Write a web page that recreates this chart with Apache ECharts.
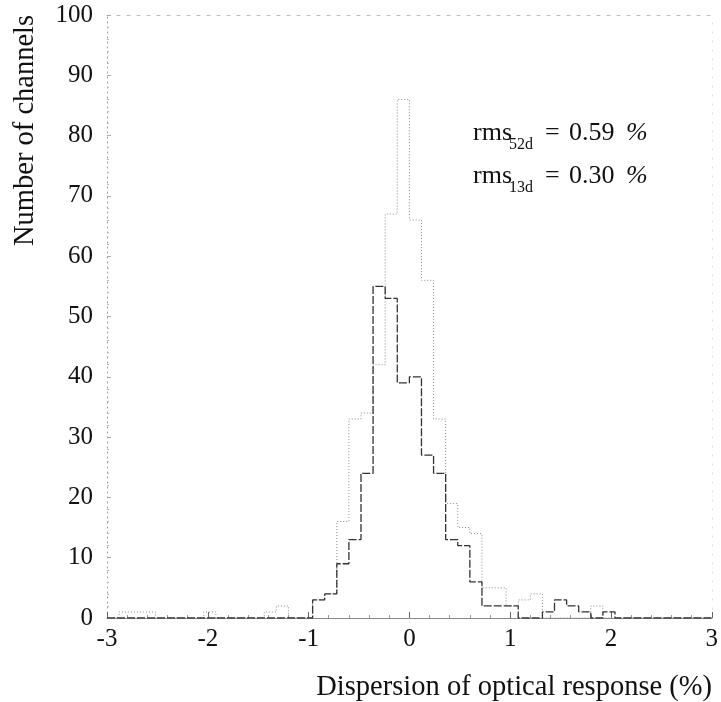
<!DOCTYPE html>
<html>
<head>
<meta charset="utf-8">
<script src="https://cdn.jsdelivr.net/npm/echarts@6/dist/echarts.min.js"></script>
<style>
html,body{margin:0;padding:0;background:#fff;}
#chart{width:721px;height:702px;}
</style>
</head>
<body>
<div id="chart"></div>
<script>
// Bin left edges (bin width 0.12 %) of the histogram, -3 % .. 3 %
const binLeft = [
  -3.00,-2.88,-2.76,-2.64,-2.52,-2.40,-2.28,-2.16,-2.04,-1.92,
  -1.80,-1.68,-1.56,-1.44,-1.32,-1.20,-1.08,-0.96,-0.84,-0.72,
  -0.60,-0.48,-0.36,-0.24,-0.12, 0.00, 0.12, 0.24, 0.36, 0.48,
   0.60, 0.72, 0.84, 0.96, 1.08, 1.20, 1.32, 1.44, 1.56, 1.68,
   1.80, 1.92, 2.04, 2.16, 2.28, 2.40, 2.52, 2.64, 2.76, 2.88
];
const binRight = 3.00;

// 52 days (wider, dark histogram)
const counts52d = [
  0,0,0,0,0,0,0,0,0,0,
  0,0,0,0,0,0,0,3,4,9,
  13,24,55,53,39,40,27,24,13,12,
  6,2,2,2,0,0,1,3,2,1,
  0,1,0,0,0,0,0,0,0,0
];
// 13 days (narrower, grey dotted histogram)
const counts13d = [
  0,1,1,1,0,0,0,0,1,0,
  0,0,0,1,2,0,0,3,4,16,
  33,34,42,67,86,66,56,33,19,15,
  14,5,5,2,3,4,0,0,0,0,
  2,0,0,0,0,0,0,0,0,0
];

const xTicks = [-3,-2,-1,0,1,2,3];
const yTicks = [0,10,20,30,40,50,60,70,80,90,100];
const xTitle = 'Dispersion of optical response (%)';
const yTitle = 'Number of channels';
const rmsLines = [
  {base:'rms', sub:'52d', val:'0.59'},
  {base:'rms', sub:'13d', val:'0.30'}
];

function stepData(counts){
  const d = binLeft.map((x,i)=>[x, counts[i]]);
  d.push([binRight, counts[counts.length-1]]);
  return d;
}

const FONT = 'Liberation Serif, Times New Roman, serif';
const chart = echarts.init(document.getElementById('chart'), null, {renderer:'canvas'});

const graphics = [];
graphics.push({
  type:'text', right:9, top:673,
  style:{text:xTitle, font:'28.5px ' + FONT, fill:'#111'}
});
graphics.push({
  type:'text', x:11, y:246, rotation:Math.PI/2,
  style:{text:yTitle, font:'28.5px ' + FONT, fill:'#111', textAlign:'left', textVerticalAlign:'top'}
});
const baselines = [146, 189];
rmsLines.forEach((r,i)=>{
  const b = baselines[i];
  graphics.push({type:'text', x:473, y:b, style:{text:r.base, font:'26px '+FONT, fill:'#111', textVerticalAlign:'bottom'}});
  graphics.push({type:'text', x:509, y:b+7, style:{text:r.sub, font:'16px '+FONT, fill:'#111', textVerticalAlign:'bottom'}});
  graphics.push({type:'text', x:545, y:b, style:{text:'=', font:'26px '+FONT, fill:'#111', textVerticalAlign:'bottom'}});
  graphics.push({type:'text', x:569, y:b, style:{text:r.val, font:'26px '+FONT, fill:'#111', textVerticalAlign:'bottom'}});
  graphics.push({type:'text', x:626, y:b, style:{text:'%', font:'italic 26px '+FONT, fill:'#111', textVerticalAlign:'bottom'}});
});

const option = {
  animation:false,
  backgroundColor:'#fff',
  grid:{left:107, right:8, top:15, bottom:84, containLabel:false},
  xAxis:[{
    type:'value', min:xTicks[0], max:xTicks[xTicks.length-1], interval:1,
    axisLine:{show:true, onZero:false, lineStyle:{color:'#888', width:1}},
    axisTick:{show:true, inside:true, length:6, lineStyle:{color:'#666'}},
    minorTick:{show:true, splitNumber:5, length:3, lineStyle:{color:'#999'}},
    axisLabel:{margin:9, fontFamily:FONT, fontSize:25, color:'#111', formatter:v=>String(v)},
    splitLine:{show:false}
  },{
    type:'value', position:'top', min:xTicks[0], max:xTicks[xTicks.length-1],
    axisLine:{show:true, onZero:false, lineStyle:{color:'#bbb', width:1, type:[3,7]}},
    axisTick:{show:false}, axisLabel:{show:false}, splitLine:{show:false}
  }],
  yAxis:[{
    type:'value', min:yTicks[0], max:yTicks[yTicks.length-1], interval:10,
    axisLine:{show:true, onZero:false, lineStyle:{color:'#999', width:1, type:[1,4]}},
    axisTick:{show:true, inside:true, length:4, lineStyle:{color:'#aaa'}},
    minorTick:{show:true, splitNumber:5, length:2, lineStyle:{color:'#bbb'}},
    axisLabel:{margin:14, fontFamily:FONT, fontSize:25, color:'#111'},
    splitLine:{show:false}
  },{
    type:'value', position:'right', min:yTicks[0], max:yTicks[yTicks.length-1],
    axisLine:{show:true, onZero:false, lineStyle:{color:'#ddd', width:1, type:[1,8]}},
    axisTick:{show:false}, axisLabel:{show:false}, splitLine:{show:false}
  }],
  series:[{
    name:'13d', type:'line', step:'end', xAxisIndex:0, yAxisIndex:0,
    data:stepData(counts13d), symbol:'none',
    lineStyle:{color:'#8a8a8a', width:1, type:[1,2]}
  },{
    name:'52d', type:'line', step:'end', xAxisIndex:0, yAxisIndex:0,
    data:stepData(counts52d), symbol:'none',
    lineStyle:{color:'#333', width:1.3, type:[8,2]}
  }],
  graphic:graphics
};
chart.setOption(option);
</script>
</body>
</html>
